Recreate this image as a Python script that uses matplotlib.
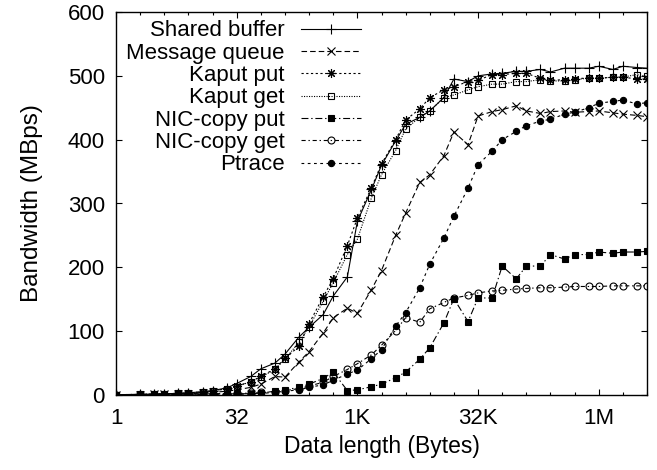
import matplotlib
matplotlib.use("Agg")
import matplotlib.pyplot as plt
from matplotlib.ticker import FixedLocator, FixedFormatter, NullFormatter

plt.rcParams['font.family'] = ['Liberation Sans', 'DejaVu Sans']
plt.rcParams['lines.scale_dashes'] = False

sizes = [1, 2, 3, 4, 6, 8, 12, 16, 24, 32, 48, 64, 96, 128, 192, 256, 384, 512, 768,
         1024, 1536, 2048, 3072, 4096, 6144, 8192, 12288, 16384, 24576, 32768, 49152,
         65536, 98304, 131072, 196608, 262144, 393216, 524288, 786432, 1048576,
         1572864, 2097152, 3145728, 4194304]

shared_buffer = [0.5, 1, 1.5, 2, 2.5, 3.5, 5, 7, 11, 18, 29, 41, 50, 64, 91, 106, 126, 155, 185,
                 272, 322, 360, 398, 424, 435, 445, 466, 495, 491, 500, 503,
                 504, 507, 507, 510, 506, 512, 512, 512, 515, 510, 515, 513, 512]
message_queue = [0, 0.5, 1, 1, 1.5, 2, 3, 4, 6, 8, 12, 17, 29, 28, 52, 68, 97, 121, 136,
                 128, 165, 195, 250, 285, 333, 345, 375, 412, 392, 437, 444,
                 447, 453, 445, 441, 444, 445, 443, 444, 445, 442, 440, 438, 436]
kaput_put = [0.5, 1, 1.5, 2, 2.5, 3, 5, 6, 10, 14, 21, 29, 41, 58, 76, 112, 154, 182, 234,
             277, 325, 362, 400, 431, 448, 466, 478, 483, 491, 493, 502,
             502, 504, 504, 496, 493, 494, 495, 497, 496, 498, 498, 495, 495]
kaput_get = [0.5, 1, 1.5, 2, 2.5, 3, 5, 6, 10, 13, 21, 28, 40, 56, 83, 107, 147, 176, 220,
             244, 309, 345, 383, 417, 435, 445, 466, 470, 478, 483, 487,
             487, 491, 491, 494, 492, 492, 493, 497, 496, 498, 498, 502, 499]
nic_put = [0, 0, 0.5, 0.5, 1, 1, 1.5, 2, 1.5, 2, 2, 3, 6, 8, 12, 17, 26, 36, 7,
           8, 13, 17, 27, 36, 56, 74, 113, 151, 115, 152, 152,
           202, 182, 202, 202, 220, 213, 220, 220, 224, 222, 224, 224, 225]
nic_get = [0, 0, 0.5, 0.5, 1, 1, 1.5, 2, 2, 2.5, 3, 4, 5, 7, 10, 14, 20, 29, 40,
           49, 63, 78, 101, 121, 114, 135, 145, 152, 156, 160, 163,
           164, 166, 167, 168, 168, 169, 170, 170, 170, 171, 171, 171, 171]
ptrace = [0, 0, 0, 0.5, 0.5, 0.5, 1, 1, 1, 1, 1.5, 2.5, 4, 6, 8, 12, 16, 23, 33,
          39, 57, 71, 108, 129, 168, 205, 246, 280, 324, 361, 382,
          400, 413, 422, 429, 432, 440, 443, 450, 457, 460, 462, 456, 458]

labels = ["Shared buffer", "Message queue", "Kaput put", "Kaput get",
          "NIC-copy put", "NIC-copy get", "Ptrace"]
x_major = [1, 32, 1024, 32768, 1048576]
x_major_labels = ["1", "32", "1K", "32K", "1M"]
y_ticks = [0, 100, 200, 300, 400, 500, 600]

fig = plt.figure(figsize=(6.57, 4.70), dpi=100)
ax = fig.add_axes([116/657, 1-395/470, (647-116)/657, (395-12)/470])

lw = 0.8
styles = [
    dict(ls='-', marker='+', ms=7, mfc='black'),
    dict(ls=(0, (4, 2.2)), marker='x', ms=5.5, mfc='black'),
    dict(ls=(0, (1.6, 1.8)), marker=(8, 2, 0), ms=6.5, mfc='black'),
    dict(ls=(0, (0.8, 1.0)), marker='s', ms=5, mfc='none'),
    dict(ls=(0, (5, 2, 1, 2)), marker='s', ms=4.5, mfc='black'),
    dict(ls=(0, (3, 2, 1, 2)), marker='o', ms=5, mfc='none'),
    dict(ls=(0, (2, 2.5)), marker='o', ms=4.5, mfc='black'),
]
series = [shared_buffer, message_queue, kaput_put, kaput_get, nic_put, nic_get, ptrace]
for vals, lab, st in zip(series, labels, styles):
    ax.plot(sizes, vals, color='black', lw=lw, linestyle=st['ls'], marker=st['marker'],
            markersize=st['ms'], markerfacecolor=st['mfc'], markeredgecolor='black',
            markeredgewidth=0.8, label=lab)

ax.set_xscale('log', base=2)
ax.set_xlim(1, 4194304)
ax.set_ylim(0, 600)
ax.xaxis.set_major_locator(FixedLocator(x_major))
ax.xaxis.set_major_formatter(FixedFormatter(x_major_labels))
ax.xaxis.set_minor_locator(FixedLocator([2**k for k in range(23)]))
ax.xaxis.set_minor_formatter(NullFormatter())
ax.set_yticks(y_ticks)
ax.tick_params(which='both', direction='in', top=True, right=True, width=0.8,
               labelsize=16)
ax.tick_params(axis='x', pad=9)
ax.tick_params(axis='y', pad=8)
ax.tick_params(which='major', length=4.5)
ax.tick_params(which='minor', length=2.5)
for sp in ax.spines.values():
    sp.set_linewidth(1.0)

ax.set_xlabel("Data length (Bytes)", fontsize=16.5, labelpad=5)
ax.set_ylabel("Bandwidth (MBps)", fontsize=17.5, labelpad=18)

leg = ax.legend(loc='upper right', bbox_to_anchor=((365 - 116) / 531, 1 - 4 / 383),
                frameon=False, markerfirst=False, fontsize=16, handlelength=2.7,
                handletextpad=0.72, labelspacing=0.06, borderaxespad=0.0, borderpad=0.2)
for col in leg._legend_handle_box.get_children():
    col.align = "right"

fig.savefig("out.png", dpi=100)
